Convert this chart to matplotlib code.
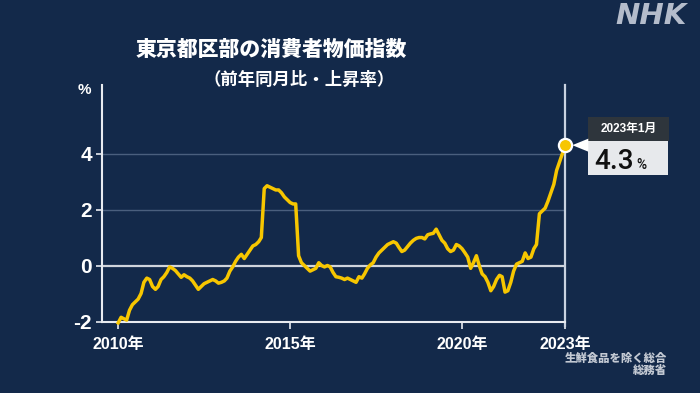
import numpy as np
import pandas as pd
import matplotlib
matplotlib.use("Agg")
import matplotlib.pyplot as plt
from matplotlib.patches import Rectangle, Polygon
from matplotlib.transforms import IdentityTransform

# ---------------- data (前年同月比, %) ----------------
start_month = "2010-01"
v2010 = [-2.05, -1.85, -1.9, -1.95, -1.6, -1.4, -1.3, -1.2, -1.0, -0.6, -0.45, -0.5]
v2011 = [-0.75, -0.85, -0.75, -0.5, -0.4, -0.25, -0.05, -0.1, -0.18, -0.3, -0.42, -0.33]
v2012 = [-0.4, -0.45, -0.55, -0.7, -0.85, -0.75, -0.65, -0.6, -0.55, -0.5, -0.55, -0.63]
v2013 = [-0.6, -0.55, -0.45, -0.2, -0.05, 0.15, 0.3, 0.4, 0.25, 0.4, 0.55, 0.7]
v2014 = [0.75, 0.85, 1.0, 2.75, 2.85, 2.8, 2.75, 2.7, 2.7, 2.6, 2.45, 2.35]
v2015 = [2.25, 2.2, 2.2, 0.35, 0.1, 0.0, -0.1, -0.2, -0.15, -0.1, 0.1, 0.0]
v2016 = [-0.05, 0.0, -0.05, -0.25, -0.4, -0.42, -0.45, -0.5, -0.45, -0.5, -0.55, -0.6]
v2017 = [-0.4, -0.45, -0.3, -0.1, 0.02, 0.1, 0.3, 0.45, 0.55, 0.65, 0.75, 0.8]
v2018 = [0.85, 0.8, 0.65, 0.5, 0.55, 0.68, 0.8, 0.9, 0.97, 1.0, 1.0, 0.95]
v2019 = [1.1, 1.13, 1.15, 1.3, 1.1, 0.9, 0.8, 0.6, 0.5, 0.55, 0.75, 0.7]
v2020 = [0.6, 0.45, 0.3, -0.1, 0.1, 0.35, 0.0, -0.3, -0.4, -0.6, -0.9, -0.75]
v2021 = [-0.5, -0.35, -0.4, -0.95, -0.9, -0.6, -0.2, 0.05, 0.1, 0.15, 0.45, 0.25]
v2022 = [0.3, 0.6, 0.75, 1.85, 1.95, 2.05, 2.3, 2.6, 2.9, 3.4, 3.7, 4.0]
v2023 = [4.3]

values = np.array(v2010 + v2011 + v2012 + v2013 + v2014 + v2015 + v2016 +
                  v2017 + v2018 + v2019 + v2020 + v2021 + v2022 + v2023)
dates = pd.date_range(start_month, periods=len(values), freq="MS")

tick_years = [2010, 2015, 2020, 2023]
tick_labels = [f"{y}年" for y in tick_years]
y_ticks = [-2, 0, 2, 4]

title = "東京都区部の消費者物価指数"
subtitle = "（前年同月比・上昇率）"
note1 = "生鮮食品を除く総合"
note2 = "総務省"

# ---------------- style ----------------
BG = "#13294a"
LINE = "#f7c600"
WHITE = "#e8ebf0"
JP = ["Noto Sans CJK JP", "DejaVu Sans"]
NUM = ["Liberation Sans", "Noto Sans CJK JP", "DejaVu Sans"]

W, H = 700, 393
fig = plt.figure(figsize=(W / 100, H / 100), dpi=100)
fig.patch.set_facecolor(BG)

def fx(x):
    return x / W

def fy(y_top):
    return 1 - y_top / H

ax = fig.add_axes([fx(101.7), fy(321.5), fx(565.3) - fx(101.7), fy(85) - fy(321.5)])
ax.set_facecolor(BG)

ax.set_xlim(pd.Timestamp("2009-07-10"), dates[-1])
ax.set_ylim(-2, 6.45)

# grid lines
for yv in [2, 4]:
    ax.axhline(yv, color="#4a5f7e", lw=1.0, zorder=1)
ax.axhline(0, color="#d0d4dc", lw=1.6, zorder=1)

# vertical line at last month
ax.axvline(dates[-1], ymin=-0.02, ymax=1, color="#c9d2e0", lw=1.6, clip_on=False, zorder=2)

# data line
ax.plot(dates, values, color=LINE, lw=2.5, solid_joinstyle="round", zorder=3, clip_on=False)
ax.plot([dates[-1]], [values[-1]], marker="o", ms=9.5, mfc=LINE, mec="white", mew=1.6,
        zorder=5, clip_on=False)

# spines
for s in ["top", "right"]:
    ax.spines[s].set_visible(False)
for s in ["left", "bottom"]:
    ax.spines[s].set_color(WHITE)
    ax.spines[s].set_linewidth(1.5)

ax.set_yticks(y_ticks)
ax.set_yticklabels([str(t) for t in y_ticks])
ax.set_xticks([pd.Timestamp(f"{y}-01-01") for y in tick_years])
ax.set_xticklabels(tick_labels)
ax.tick_params(axis="y", colors=WHITE, length=4, width=1.2, pad=3, labelsize=15)
ax.tick_params(axis="x", colors=WHITE, length=5, width=1.2, pad=6, labelsize=11.5)
for lab in ax.get_yticklabels():
    lab.set_fontfamily(NUM)
    lab.set_fontweight("bold")
    lab.set_color("white")
for lab in ax.get_xticklabels():
    lab.set_fontfamily(NUM)
    lab.set_fontweight("bold")
    lab.set_color("white")

# % unit
fig.text(fx(84), fy(90), "%", color="white", fontsize=11, fontweight="bold",
         family=NUM, ha="center", va="center")

# titles
fig.text(fx(271), fy(50), title, color="white", fontsize=15, fontweight="black",
         family=JP, ha="center", va="center")
fig.text(fx(299), fy(80), subtitle, color="white", fontsize=12.5, fontweight="bold",
         family=JP, ha="center", va="center")

# NHK logo
fig.text(fx(651), fy(16), "NHK", color="#b4bccb", fontsize=21, fontweight="heavy",
         style="italic", family=["DejaVu Sans"], ha="center", va="center")

# notes
fig.text(fx(667), fy(358), note1, color="#c3c9d3", fontsize=8.2, fontweight="black",
         family=JP, ha="right", va="center")
fig.text(fx(667), fy(370), note2, color="#c3c9d3", fontsize=8.2, fontweight="black",
         family=JP, ha="right", va="center")

# ---------------- callout ----------------
mx, my = ax.transData.transform((matplotlib.dates.date2num(dates[-1]), values[-1]))
ident = IdentityTransform()
hdr = Rectangle((mx + 23, my + 4), 81, 24, transform=ident, facecolor="#2e353c",
                edgecolor="none", zorder=10)
body = Rectangle((mx + 23, my - 30), 80, 34, transform=ident, facecolor="#e7e9ec",
                 edgecolor="none", zorder=10)
tri = Polygon([(mx + 7, my), (mx + 23, my + 6.5), (mx + 23, my - 6.5)], closed=True,
              transform=ident, facecolor="white", edgecolor="none", zorder=11)
for p in (hdr, body, tri):
    fig.add_artist(p)

last = dates[-1]
fig.text((mx + 63.5) / W, (my + 16) / H, f"{last.year}年{last.month}月", color="white",
         fontsize=8.5, fontweight="bold", family=NUM, ha="center", va="center", zorder=12)
t_val = fig.text((mx + 29) / W, (my - 24) / H, f"{values[-1]:.1f}", color="#111111",
                 fontsize=20, family=["Roboto", "DejaVu Sans"], fontweight="medium",
                 ha="left", va="baseline", zorder=12)
renderer = fig.canvas.get_renderer()
bb = t_val.get_window_extent(renderer)
fig.text((bb.x1 + 2) / W, (my - 24) / H, "%", color="#111111", fontsize=10,
         family=["Roboto", "DejaVu Sans"], fontweight="medium", ha="left",
         va="baseline", zorder=12)

fig.savefig("out.png", dpi=100, facecolor=BG)
